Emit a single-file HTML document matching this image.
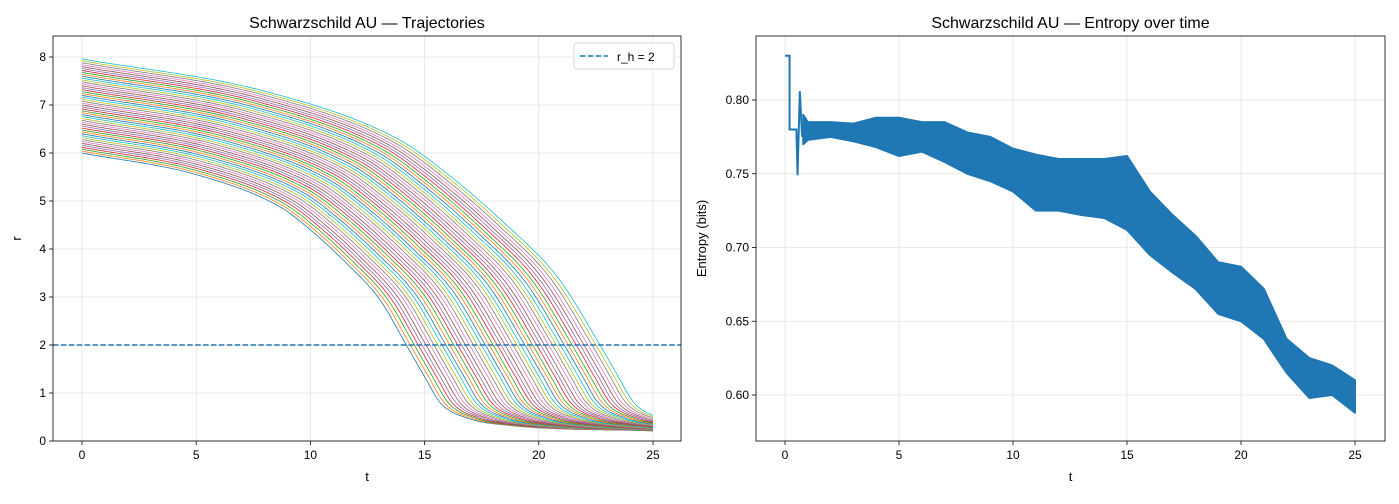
<!DOCTYPE html>
<html><head><meta charset="utf-8">
<style>
body{margin:0;background:#fff;font-family:"Liberation Sans","DejaVu Sans",sans-serif;}
svg text{font-family:"Liberation Sans","DejaVu Sans",sans-serif;fill:#000}
</style></head>
<body>
<svg id="c" width="1399" height="499" xmlns="http://www.w3.org/2000/svg">
<rect width="1399" height="499" fill="#fff"/>
</svg>
<script>
// Left chart data
const r0Values=[6.00,6.04,6.08,6.12,6.16,6.20,6.24,6.28,6.32,6.36,6.40,6.44,6.48,6.52,6.56,6.60,6.64,6.68,6.72,6.76,6.80,6.84,6.88,6.92,6.96,7.00,7.04,7.08,7.12,7.16,7.20,7.24,7.28,7.32,7.36,7.40,7.44,7.48,7.52,7.56,7.60,7.64,7.68,7.72,7.76,7.80,7.84,7.88,7.92,7.96];
const crossTimes=[14.2,14.37,14.55,14.72,14.89,15.06,15.24,15.41,15.58,15.76,15.93,16.1,16.28,16.45,16.62,16.79,16.97,17.14,17.31,17.49,17.66,17.83,18.0,18.18,18.35,18.52,18.7,18.87,19.04,19.21,19.39,19.56,19.73,19.91,20.08,20.25,20.43,20.6,20.77,20.94,21.12,21.29,21.46,21.64,21.81,21.98,22.15,22.33,22.5,22.68];
// profile above horizon: fraction of (r0 - r_h) vs t / crossing time
const upperU=[0,0.352,0.61,0.704,0.816,0.919,1];
const upperG=[1,0.8875,0.72,0.6,0.425,0.235,0];
// profile below horizon: fraction of (r_h - r_min) vs time after crossing
const lowerD=[0,0.8,1.5,2.65,4.4,10.8];
const lowerH=[1,0.633,0.328,0.156,0.072,0.005];
const rMin=0.2;
const xTicksL=[0,5,10,15,20,25];
const yTicksL=[0,1,2,3,4,5,6,7,8];
const horizon=2;
// Right chart data
const entT=[0,0.2,0.2,0.5,0.55,0.65,0.75];
const entV=[0.83,0.83,0.78,0.78,0.749,0.806,0.775];
const bandT=[0.8,1,2,3,4,5,6,7,8,9,10,11,12,13,14,15,16,17,18,19,20,21,22,23,24,25];
const bandUpper=[0.79,0.785,0.785,0.784,0.788,0.788,0.785,0.785,0.778,0.775,0.767,0.763,0.760,0.760,0.760,0.762,0.738,0.722,0.708,0.69,0.687,0.672,0.638,0.625,0.620,0.610];
const bandLower=[0.77,0.773,0.775,0.772,0.768,0.762,0.765,0.758,0.750,0.745,0.738,0.725,0.725,0.722,0.720,0.712,0.695,0.683,0.672,0.655,0.650,0.638,0.615,0.598,0.600,0.588];
const xTicksR=[0,5,10,15,20,25];
const yTicksR=[0.60,0.65,0.70,0.75,0.80];

const NS="http://www.w3.org/2000/svg";
const svg=document.getElementById('c');
function mk(tag,at,parent){const e=document.createElementNS(NS,tag);for(const k in at)e.setAttribute(k,at[k]);(parent||svg).appendChild(e);return e;}
const colors=['#1f77b4','#ff7f0e','#2ca02c','#d62728','#9467bd','#8c564b','#e377c2','#7f7f7f','#bcbd22','#17becf'];

function axes(L,T,W,H,xs,ys,xt,yt,yfmt,title,xl,yl,ylx,pre){
  const g=mk('g',{});
  
  
  xt.forEach(v=>{const x=xs(v);
    const gl=mk('line',{x1:x,x2:x,y1:T,y2:T+H,stroke:'#e3e3e3','stroke-width':0.8},g);
    
    mk('line',{x1:x,x2:x,y1:T+H,y2:T+H+4,stroke:'#000','stroke-width':0.8},g);
    const t=mk('text',{x:x,y:T+H+18,'text-anchor':'middle','font-size':12},g);t.textContent=v;
    });
  yt.forEach(v=>{const y=ys(v);
    const gl=mk('line',{x1:L,x2:L+W,y1:y,y2:y,stroke:'#e3e3e3','stroke-width':0.8},g);
    
    mk('line',{x1:L-4,x2:L,y1:y,y2:y,stroke:'#000','stroke-width':0.8},g);
    const t=mk('text',{x:L-7,y:y+4,'text-anchor':'end','font-size':12},g);t.textContent=yfmt(v);
    });
  const tt=mk('text',{x:L+W/2,y:T-8,'text-anchor':'middle','font-size':16},g);tt.textContent=title;
  
  const xa=mk('text',{x:L+W/2,y:T+H+40,'text-anchor':'middle','font-size':13},g);xa.textContent=xl;
  
  const ya=mk('text',{x:ylx,y:T+H/2,'text-anchor':'middle','font-size':13,transform:`rotate(-90 ${ylx} ${T+H/2})`},g);ya.textContent=yl;
  
}
function frame(L,T,W,H,pre){const f=mk('rect',{x:L,y:T,width:W,height:H,fill:'none',stroke:'#000','stroke-width':0.8});
  }

// monotone cubic interpolation (Fritsch-Carlson)
function monotone(xs,ys){
  const n=xs.length,d=[],m=new Array(n);
  for(let i=0;i<n-1;i++)d.push((ys[i+1]-ys[i])/(xs[i+1]-xs[i]));
  m[0]=d[0];m[n-1]=d[n-2];
  for(let i=1;i<n-1;i++){m[i]=(d[i-1]*d[i]<=0)?0:(d[i-1]+d[i])/2;}
  for(let i=0;i<n-1;i++){if(d[i]===0){m[i]=0;m[i+1]=0;continue;}
    const a=m[i]/d[i],b=m[i+1]/d[i],s=a*a+b*b;if(s>9){const t=3/Math.sqrt(s);m[i]=t*a*d[i];m[i+1]=t*b*d[i];}}
  return x=>{if(x<=xs[0])return ys[0];if(x>=xs[n-1])return ys[n-1];
    let i=0;while(x>xs[i+1])i++;const h=xs[i+1]-xs[i],t=(x-xs[i])/h,t2=t*t,t3=t2*t;
    return (2*t3-3*t2+1)*ys[i]+(t3-2*t2+t)*h*m[i]+(-2*t3+3*t2)*ys[i+1]+(t3-t2)*h*m[i+1];};
}

// ---------- Left
const L1=53,T1=36,W1=628,H1=405;
const xL=t=>82+t*22.84, yL=r=>441-r*48;
axes(L1,T1,W1,H1,xL,yL,xTicksL,yTicksL,v=>v,'Schwarzschild AU — Trajectories','t','r',21,'left');
const clipL=mk('clipPath',{id:'cl'});mk('rect',{x:L1,y:T1,width:W1,height:H1},clipL);
const gL=mk('g',{'clip-path':'url(#cl)'});

r0Values.forEach((r0,i)=>{
  const tc=crossTimes[i];
  const nt=[],nr=[];
  upperU.forEach((u,k)=>{nt.push(u*tc);nr.push(horizon+(r0-horizon)*upperG[k]);});
  lowerD.forEach((dd,k)=>{if(k===0)return;nt.push(tc+dd);nr.push(rMin+(horizon-rMin)*lowerH[k]);});
  const f=monotone(nt,nr);
  const pts=[];
  for(let k=0;k<=250;k++){const t=k*0.1;pts.push(xL(t).toFixed(1)+','+yL(f(t)).toFixed(1));}
  const p=mk('polyline',{points:pts.join(' '),fill:'none',stroke:colors[i%10],'stroke-width':0.8},gL);
  
});
const hl=mk('line',{x1:L1,x2:L1+W1,y1:yL(horizon),y2:yL(horizon),stroke:'#1f77b4','stroke-width':1.5,'stroke-dasharray':'5.5,2.4'});

frame(L1,T1,W1,H1,'left');
const lg=mk('g',{});
mk('rect',{x:574,y:43,width:100,height:26,rx:3,fill:'#fff',stroke:'#ccc','stroke-width':0.8},lg);
mk('line',{x1:580,x2:608,y1:56,y2:56,stroke:'#1f77b4','stroke-width':1.5,'stroke-dasharray':'5.5,2.4'},lg);
const lt=mk('text',{x:617,y:61,'font-size':12},lg);lt.textContent='r_h = 2';


// ---------- Right
const L2=756,T2=36,W2=629,H2=405;
const xR=t=>785+t*22.8, yR=v=>100+(0.80-v)*1475;
axes(L2,T2,W2,H2,xR,yR,xTicksR,yTicksR,v=>v.toFixed(2),'Schwarzschild AU — Entropy over time','t','Entropy (bits)',706,'right');
const gR=mk('g',{});
const l=mk('polyline',{points:entT.map((t,i)=>xR(t)+','+yR(entV[i])).join(' '),fill:'none',stroke:'#1f77b4','stroke-width':2},gR);

const bp=bandT.map((t,i)=>xR(t)+','+yR(bandUpper[i])).concat(bandT.slice().reverse().map((t,j)=>{const i=bandT.length-1-j;return xR(t)+','+yR(bandLower[i]);})).join(' ');
const band=mk('polygon',{points:bp,fill:'#1f77b4',stroke:'#1f77b4','stroke-width':2,'stroke-linejoin':'round'},gR);

frame(L2,T2,W2,H2,'right');
</script>
</body></html>
